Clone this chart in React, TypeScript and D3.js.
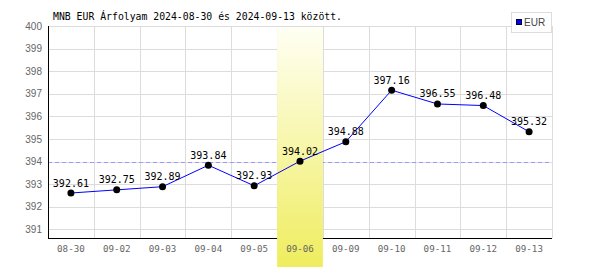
import React from "react";
import * as d3 from "d3";

const categories = ["08-30", "09-02", "09-03", "09-04", "09-05", "09-06", "09-09", "09-10", "09-11", "09-12", "09-13"];
const values = [392.61, 392.75, 392.89, 393.84, 392.93, 394.02, 394.88, 397.16, 396.55, 396.48, 395.32];
const yTicks = [391, 392, 393, 394, 395, 396, 397, 398, 399, 400];
const highlightCategory = "09-06";
const referenceValue = 394;
const seriesName = "EUR";
const title = "MNB EUR Árfolyam 2024-08-30 és 2024-09-13 között.";

const W = 600;
const H = 270;
const left = 48;
const right = 552;
const top = 26;
const bottom = 238;
const mono = "'DejaVu Sans Mono', 'Liberation Mono', monospace";
const sans = "'Liberation Sans', Arial, sans-serif";

export default function App() {
  const x = d3.scaleBand<string>().domain(categories).range([left, right]).padding(0);
  const y = d3.scaleLinear().domain([390.62, 400]).range([bottom, top]);
  const bw = x.bandwidth();
  const cx = (c: string) => (x(c) as number) + bw / 2;
  const line = d3
    .line<number>()
    .x((_, i) => cx(categories[i]))
    .y((d) => y(d));
  const hx = x(highlightCategory) as number;

  return (
    <div style={{ position: "absolute", left: 0, top: 0 }}>
      <svg width={W} height={H} style={{ display: "block" }}>
        <defs>
          <linearGradient id="hl" x1="0" y1="0" x2="0" y2="1">
            <stop offset="0%" stopColor="#fffff4" />
            <stop offset="100%" stopColor="#efed5e" />
          </linearGradient>
        </defs>
        <rect x={0} y={0} width={W} height={H} fill="#fff" />
        {/* horizontal gridlines */}
        {yTicks.map((t) => (
          <line key={"h" + t} x1={left} x2={right} y1={Math.round(y(t)) + 0.5} y2={Math.round(y(t)) + 0.5} stroke="#dcdcdc" />
        ))}
        {/* vertical gridlines */}
        {categories.map((c) => {
          const xx = Math.round((x(c) as number) + bw) + 0.5;
          return <line key={"v" + c} x1={xx} x2={xx} y1={top} y2={bottom} stroke="#dcdcdc" />;
        })}
        {/* dashed reference */}
        <line x1={left} x2={right} y1={Math.round(y(referenceValue)) + 0.5} y2={Math.round(y(referenceValue)) + 0.5} stroke="#9999ff" strokeDasharray="4,3" />
        {/* axes */}
        <line x1={left + 0.5} x2={left + 0.5} y1={top} y2={bottom + 1} stroke="#000" />
        <line x1={left} x2={right} y1={bottom + 0.5} y2={bottom + 0.5} stroke="#000" />
        {/* highlight */}
        <rect x={hx} y={top + 1} width={bw} height={267 - top - 1} fill="url(#hl)" />
        {/* y labels */}
        {yTicks.map((t) => (
          <text key={"yl" + t} x={42} y={y(t) + 3.6} textAnchor="end" fontFamily={sans} fontSize={10} fill="#666">
            {t}
          </text>
        ))}
        {/* x labels */}
        {categories.map((c) => (
          <text key={"xl" + c} x={cx(c)} y={252} textAnchor="middle" fontFamily={mono} fontSize={9.2} fill="#666">
            {c}
          </text>
        ))}
        {/* series */}
        <path d={line(values) as string} fill="none" stroke="#0000ff" strokeWidth={1} />
        {values.map((v, i) => (
          <circle key={"p" + i} cx={cx(categories[i])} cy={y(v)} r={3.5} fill="#000" />
        ))}
        {values.map((v, i) => (
          <text key={"dl" + i} x={cx(categories[i])} y={y(v) - 6.5} textAnchor="middle" fontFamily={mono} fontSize={10} fill="#000">
            {v.toFixed(2)}
          </text>
        ))}
        {/* title */}
        <text x={53} y={19.5} fontFamily={mono} fontSize={9.8} fill="#000">
          {title}
        </text>
        {/* legend */}
        <rect x={511.5} y={12.5} width={40} height={20} fill="#fff" stroke="#dcdcdc" />
        <rect x={516.5} y={19.5} width={5} height={5} fill="#0000ff" stroke="#000033" />
        <text x={524} y={26} fontFamily={sans} fontSize={10} fill="#444">
          {seriesName}
        </text>
      </svg>
    </div>
  );
}
